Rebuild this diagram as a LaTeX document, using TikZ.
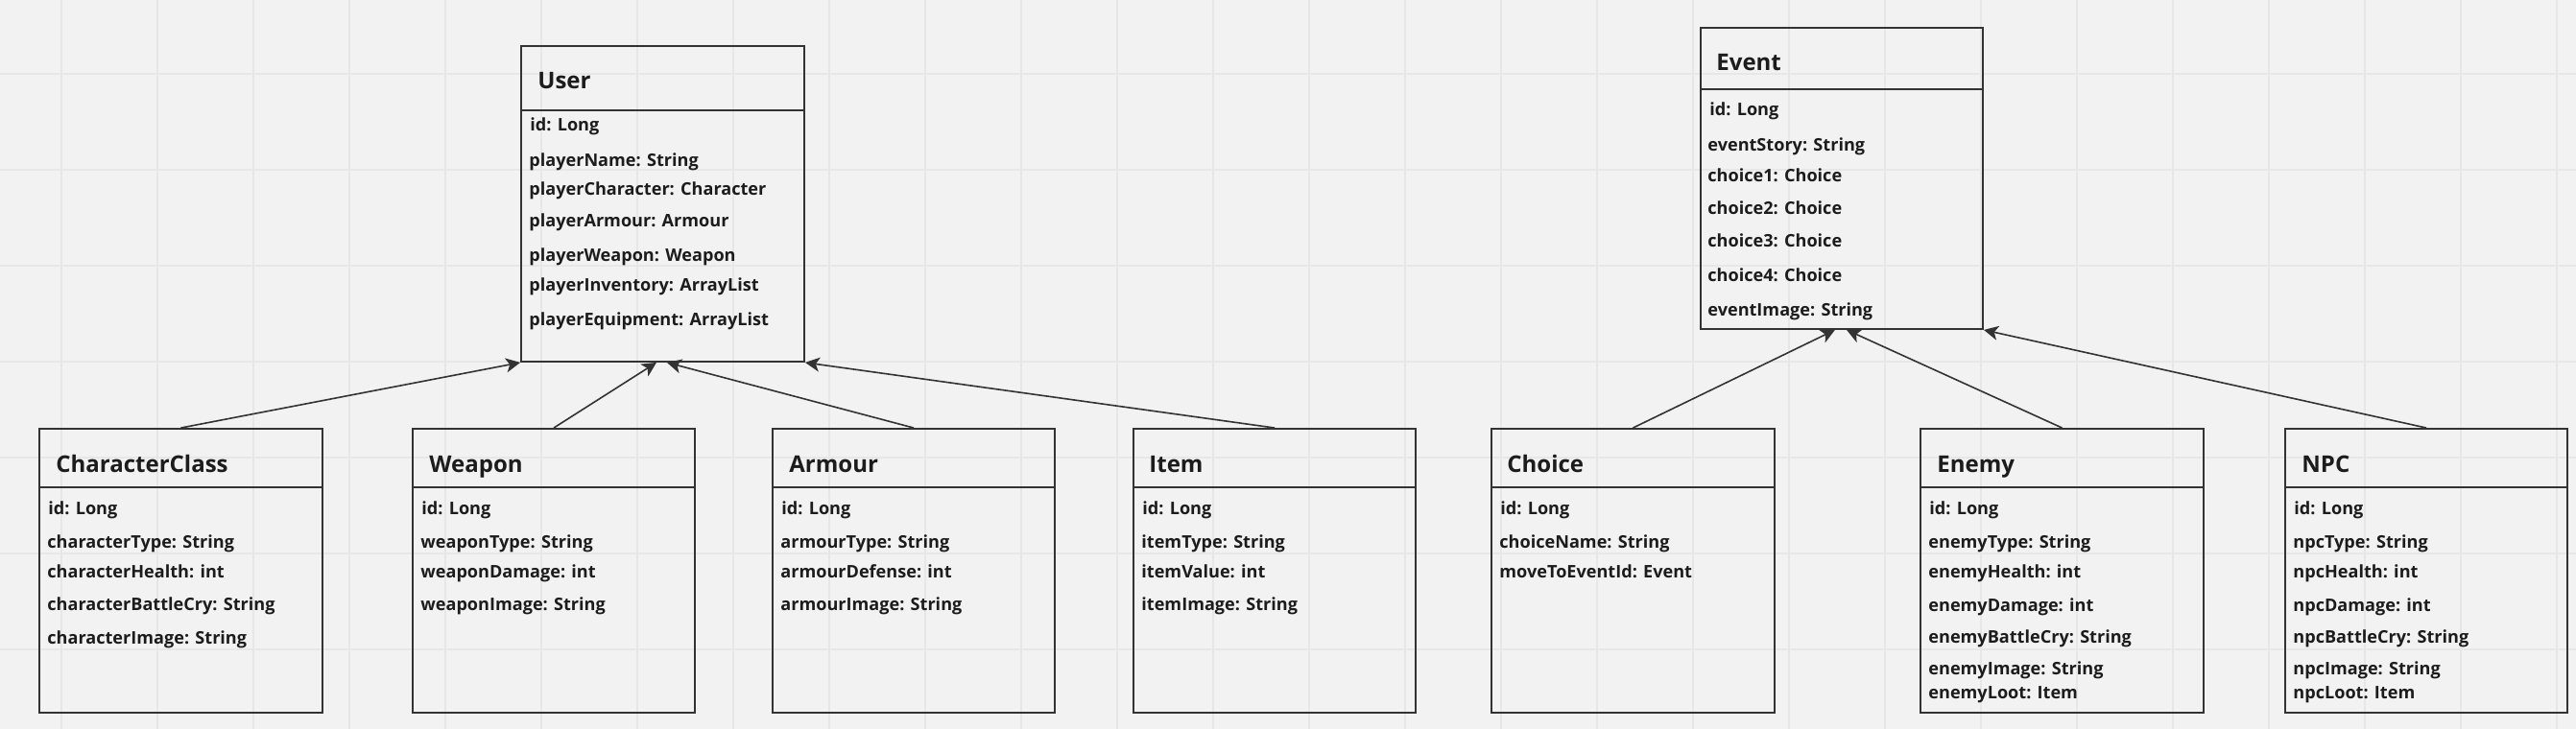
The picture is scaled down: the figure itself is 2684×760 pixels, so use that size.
\documentclass[tikz,border=0pt]{standalone}
\usepackage{fontspec}
\setmainfont{Open Sans}
\usetikzlibrary{arrows.meta,fit,calc}
\definecolor{bgc}{HTML}{F2F2F2}
\definecolor{gridc}{HTML}{E7E7E7}
\definecolor{linec}{HTML}{333333}
\definecolor{textc}{HTML}{1C1C1C}
\tikzset{
  x=0.5pt, y=-0.5pt,
  boxpart/.style={draw=linec, line width=0.95pt, inner sep=0pt},
  titletext/.style={anchor=base west, inner sep=0pt, text=textc, font=\fontsize{12}{14}\selectfont\bfseries},
  attrtext/.style={anchor=base west, inner sep=0pt, text=textc, font=\fontsize{9.05}{11}\selectfont\bfseries},
  assoc/.style={draw=linec, line width=0.8pt, -{Stealth[length=7.5pt,width=7.5pt,inset=2pt]}},
}
\begin{document}
\begin{tikzpicture}
\useasboundingbox (0,0) rectangle (2684,760);
\fill[bgc] (0,0) rectangle (2684,760);
\foreach \gx in {64,164,...,2664} \draw[gridc, line width=0.8pt] (\gx,0) -- (\gx,760);
\foreach \gy in {77,177,...,677} \draw[gridc, line width=0.8pt] (0,\gy) -- (2684,\gy);

% ---------- User ----------
\node[boxpart, fit={(543,48) (838,115)}] (userH) {};
\node[boxpart, fit={(543,115) (838,377)}] (user) {};
\node[titletext] (userT) at (560,92) {User};
\node[attrtext] (user1) at (552,136) {id: Long};
\node[attrtext] (user2) at (551,173) {playerName: String};
\node[attrtext] (user3) at (551,203) {playerCharacter: Character};
\node[attrtext] (user4) at (551,236) {playerArmour: Armour};
\node[attrtext] (user5) at (551,272) {playerWeapon: Weapon};
\node[attrtext] (user6) at (551,303) {playerInventory: ArrayList};
\node[attrtext] (user7) at (551,339) {playerEquipment: ArrayList};

% ---------- Event ----------
\node[boxpart, fit={(1772,29) (2066,93)}] (eventH) {};
\node[boxpart, fit={(1772,93) (2066,343)}] (event) {};
\node[titletext] (eventT) at (1788,73) {Event};
\node[attrtext] (event1) at (1781,120) {id: Long};
\node[attrtext] (event2) at (1779,157) {eventStory: String};
\node[attrtext] (event3) at (1779,189) {choice1: Choice};
\node[attrtext] (event4) at (1779,223) {choice2: Choice};
\node[attrtext] (event5) at (1779,257) {choice3: Choice};
\node[attrtext] (event6) at (1779,293) {choice4: Choice};
\node[attrtext] (event7) at (1779,329) {eventImage: String};

% ---------- CharacterClass ----------
\node[boxpart, fit={(41,447) (336,508)}] (ccH) {};
\node[boxpart, fit={(41,508) (336,743)}] (cc) {};
\node[titletext] (ccT) at (58,492) {CharacterClass};
\node[attrtext] (cc1) at (50,536) {id: Long};
\node[attrtext] (cc2) at (49,571) {characterType: String};
\node[attrtext] (cc3) at (49,602) {characterHealth: int};
\node[attrtext] (cc4) at (49,636) {characterBattleCry: String};
\node[attrtext] (cc5) at (49,671) {characterImage: String};

% ---------- Weapon ----------
\node[boxpart, fit={(430,447) (724,508)}] (wpH) {};
\node[boxpart, fit={(430,508) (724,743)}] (wp) {};
\node[titletext] (wpT) at (447,492) {Weapon};
\node[attrtext] (wp1) at (439,536) {id: Long};
\node[attrtext] (wp2) at (438,571) {weaponType: String};
\node[attrtext] (wp3) at (438,602) {weaponDamage: int};
\node[attrtext] (wp4) at (438,636) {weaponImage: String};

% ---------- Armour ----------
\node[boxpart, fit={(805,447) (1099,508)}] (arH) {};
\node[boxpart, fit={(805,508) (1099,743)}] (ar) {};
\node[titletext] (arT) at (822,492) {Armour};
\node[attrtext] (ar1) at (814,536) {id: Long};
\node[attrtext] (ar2) at (813,571) {armourType: String};
\node[attrtext] (ar3) at (813,602) {armourDefense: int};
\node[attrtext] (ar4) at (813,636) {armourImage: String};

% ---------- Item ----------
\node[boxpart, fit={(1181,447) (1475,508)}] (itH) {};
\node[boxpart, fit={(1181,508) (1475,743)}] (it) {};
\node[titletext] (itT) at (1197,492) {Item};
\node[attrtext] (it1) at (1190,536) {id: Long};
\node[attrtext] (it2) at (1189,571) {itemType: String};
\node[attrtext] (it3) at (1189,602) {itemValue: int};
\node[attrtext] (it4) at (1189,636) {itemImage: String};

% ---------- Choice ----------
\node[boxpart, fit={(1554,447) (1849,508)}] (chH) {};
\node[boxpart, fit={(1554,508) (1849,743)}] (ch) {};
\node[titletext] (chT) at (1570,492) {Choice};
\node[attrtext] (ch1) at (1563,536) {id: Long};
\node[attrtext] (ch2) at (1562,571) {choiceName: String};
\node[attrtext] (ch3) at (1562,602) {moveToEventId: Event};

% ---------- Enemy ----------
\node[boxpart, fit={(2001,447) (2296,508)}] (enH) {};
\node[boxpart, fit={(2001,508) (2296,743)}] (en) {};
\node[titletext] (enT) at (2018,492) {Enemy};
\node[attrtext] (en1) at (2010,536) {id: Long};
\node[attrtext] (en2) at (2009,571) {enemyType: String};
\node[attrtext] (en3) at (2009,602) {enemyHealth: int};
\node[attrtext] (en4) at (2009,637) {enemyDamage: int};
\node[attrtext] (en5) at (2009,670) {enemyBattleCry: String};
\node[attrtext] (en6) at (2009,703) {enemyImage: String};
\node[attrtext] (en7) at (2009,728) {enemyLoot: Item};

% ---------- NPC ----------
\node[boxpart, fit={(2381,447) (2675,508)}] (npH) {};
\node[boxpart, fit={(2381,508) (2675,743)}] (np) {};
\node[titletext] (npT) at (2398,492) {NPC};
\node[attrtext] (np1) at (2390,536) {id: Long};
\node[attrtext] (np2) at (2389,571) {npcType: String};
\node[attrtext] (np3) at (2389,602) {npcHealth: int};
\node[attrtext] (np4) at (2389,637) {npcDamage: int};
\node[attrtext] (np5) at (2389,670) {npcBattleCry: String};
\node[attrtext] (np6) at (2389,703) {npcImage: String};
\node[attrtext] (np7) at (2389,728) {npcLoot: Item};

% ---------- connectors ----------
\draw[assoc] (ccH.north) -- (user.south west);
\draw[assoc] (wpH.north) -- ($(user.south west)!0.478!(user.south east)$);
\draw[assoc] (arH.north) -- ($(user.south west)!0.515!(user.south east)$);
\draw[assoc] (itH.north) -- (user.south east);
\draw[assoc] (chH.north) -- ($(event.south west)!0.476!(event.south east)$);
\draw[assoc] (enH.north) -- ($(event.south west)!0.517!(event.south east)$);
\draw[assoc] (npH.north) -- (event.south east);
\end{tikzpicture}
\end{document}
